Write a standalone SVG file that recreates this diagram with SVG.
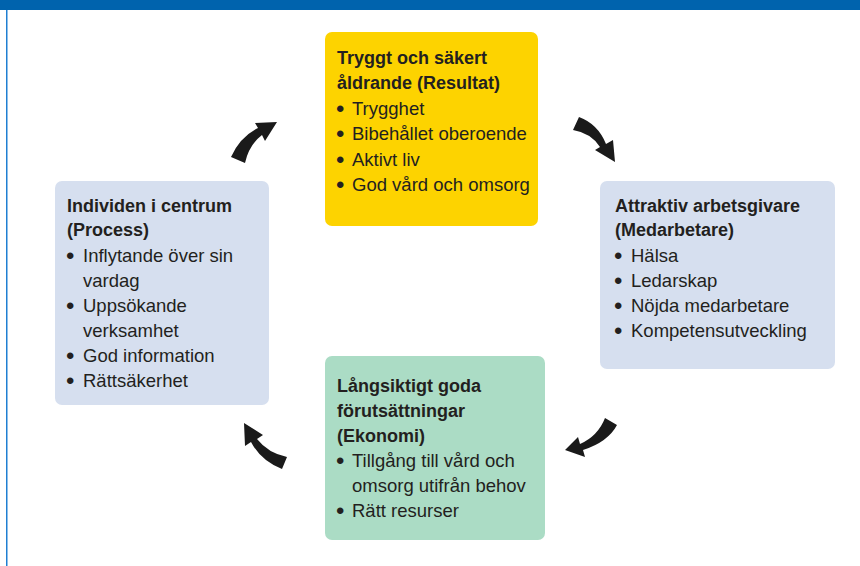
<svg xmlns="http://www.w3.org/2000/svg" width="860" height="566" viewBox="0 0 860 566">
<style>
.t{font-family:"Liberation Sans",Arial,sans-serif;font-size:18px;font-weight:bold;fill:#231f20}
.i{font-family:"Liberation Sans",Arial,sans-serif;font-size:18.5px;fill:#231f20}
.b{font-size:24px;baseline-shift:-2px}
.arr{fill:#1a1a1a}
</style>
<rect x="0" y="0" width="860" height="566" fill="#ffffff"/>
<rect x="0" y="0" width="860" height="10" fill="#0063ad"/>
<rect x="6" y="10" width="1.5" height="556" fill="#1f7fd2"/>

<g id="node-resultat">
<rect x="325" y="32" width="213" height="194" rx="7" fill="#fdd300"/>
<text class="t" x="337" y="64">Tryggt och säkert</text>
<text class="t" x="337" y="89">åldrande (Resultat)</text>
<text class="i" x="336" y="115"><tspan class="b">•</tspan><tspan x="352">Trygghet</tspan></text>
<text class="i" x="336" y="140"><tspan class="b">•</tspan><tspan x="352">Bibehållet oberoende</tspan></text>
<text class="i" x="336" y="166"><tspan class="b">•</tspan><tspan x="352">Aktivt liv</tspan></text>
<text class="i" x="336" y="191"><tspan class="b">•</tspan><tspan x="352">God vård och omsorg</tspan></text>
</g>

<g id="node-medarbetare">
<rect x="600" y="181" width="235" height="188" rx="7" fill="#d6dfef"/>
<text class="t" x="615" y="212">Attraktiv arbetsgivare</text>
<text class="t" x="615" y="236">(Medarbetare)</text>
<text class="i" x="614" y="262"><tspan class="b">•</tspan><tspan x="631">Hälsa</tspan></text>
<text class="i" x="614" y="287"><tspan class="b">•</tspan><tspan x="631">Ledarskap</tspan></text>
<text class="i" x="614" y="312"><tspan class="b">•</tspan><tspan x="631">Nöjda medarbetare</tspan></text>
<text class="i" x="614" y="337"><tspan class="b">•</tspan><tspan x="631">Kompetensutveckling</tspan></text>
</g>

<g id="node-ekonomi">
<rect x="325" y="356" width="220" height="184" rx="7" fill="#abdcc5"/>
<text class="t" x="337" y="392">Långsiktigt goda</text>
<text class="t" x="337" y="417">förutsättningar</text>
<text class="t" x="337" y="442">(Ekonomi)</text>
<text class="i" x="336" y="467"><tspan class="b">•</tspan><tspan x="352">Tillgång till vård och</tspan></text>
<text class="i" x="352" y="492">omsorg utifrån behov</text>
<text class="i" x="336" y="517"><tspan class="b">•</tspan><tspan x="352">Rätt resurser</tspan></text>
</g>

<g id="node-process">
<rect x="55" y="181" width="214" height="224" rx="7" fill="#d6dfef"/>
<text class="t" x="67" y="212">Individen i centrum</text>
<text class="t" x="67" y="236">(Process)</text>
<text class="i" x="66" y="262"><tspan class="b">•</tspan><tspan x="83">Inflytande över sin</tspan></text>
<text class="i" x="83" y="287">vardag</text>
<text class="i" x="66" y="312"><tspan class="b">•</tspan><tspan x="83">Uppsökande</tspan></text>
<text class="i" x="83" y="337">verksamhet</text>
<text class="i" x="66" y="362"><tspan class="b">•</tspan><tspan x="83">God information</tspan></text>
<text class="i" x="66" y="387"><tspan class="b">•</tspan><tspan x="83">Rättsäkerhet</tspan></text>
</g>

<g id="connectors">
<path class="arr" d="M231,157 Q240,137 258,128 L255,123 L277,122 L265,141 L262,135 Q249,145 245,163 Z"/>
<path class="arr" d="M579,117 Q598,124 606,144 L613,140 L615,162 L595,150 L600,147 Q591,133 573,130 Z"/>
<path class="arr" d="M605,418 Q598,436 580,444 L578,437 L565,450 L585,457 L583,450 Q608,442 617,425 Z"/>
<path class="arr" d="M244,423 L263,435 L257,439 Q268,453 287,457 L282,469 Q261,461 251,442 L245,446 Z"/>
</g>
</svg>
